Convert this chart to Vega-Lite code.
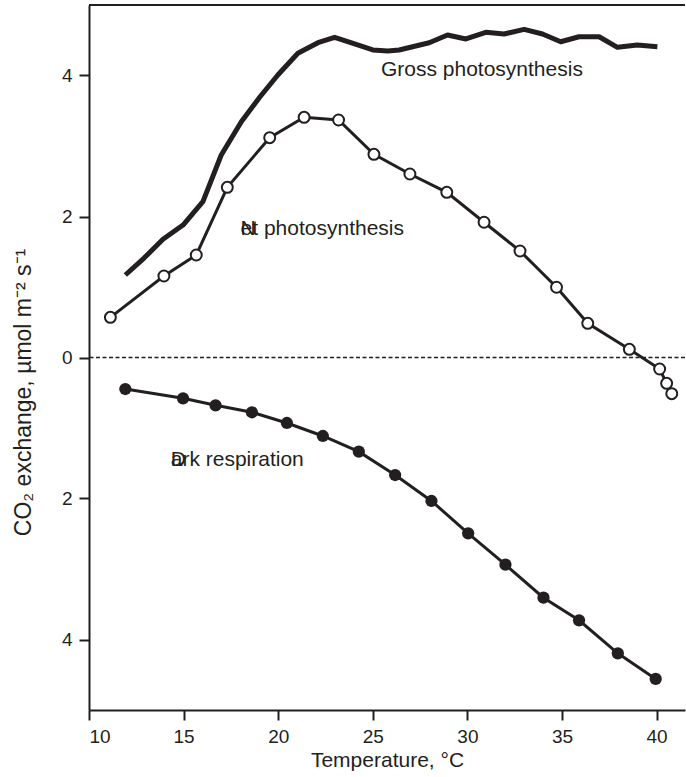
{
  "$schema": "https://vega.github.io/schema/vega-lite/v6.json",
  "width": 596,
  "height": 705,
  "autosize": {"type": "none"},
  "padding": {"left": 89, "top": 5, "right": 1, "bottom": 67},
  "background": "white",
  "config": {
    "view": {"stroke": null},
    "font": "Liberation Sans",
    "axis": {
      "domainColor": "#231f20", "domainWidth": 2,
      "tickColor": "#231f20", "tickWidth": 2, "tickSize": 10,
      "labelFont": "Liberation Sans", "labelFontSize": 19, "labelColor": "#231f20",
      "titleFont": "Liberation Sans", "titleFontSize": 21, "titleFontWeight": "normal", "titleColor": "#231f20",
      "grid": false, "labelPadding": 7
    }
  },
  "datasets": {
    "curves": [
      {"series": "gross", "t": 11.92, "v": 1.17},
      {"series": "gross", "t": 12.91, "v": 1.41},
      {"series": "gross", "t": 13.91, "v": 1.677},
      {"series": "gross", "t": 14.97, "v": 1.879},
      {"series": "gross", "t": 16.02, "v": 2.21},
      {"series": "gross", "t": 16.99, "v": 2.872},
      {"series": "gross", "t": 18.05, "v": 3.345},
      {"series": "gross", "t": 19.03, "v": 3.695},
      {"series": "gross", "t": 19.98, "v": 4.007},
      {"series": "gross", "t": 21.04, "v": 4.315},
      {"series": "gross", "t": 22.10, "v": 4.465},
      {"series": "gross", "t": 22.98, "v": 4.542},
      {"series": "gross", "t": 24.04, "v": 4.447},
      {"series": "gross", "t": 25.00, "v": 4.362},
      {"series": "gross", "t": 25.79, "v": 4.348},
      {"series": "gross", "t": 26.39, "v": 4.362},
      {"series": "gross", "t": 27.98, "v": 4.465},
      {"series": "gross", "t": 28.95, "v": 4.574},
      {"series": "gross", "t": 29.92, "v": 4.518},
      {"series": "gross", "t": 30.97, "v": 4.613},
      {"series": "gross", "t": 31.94, "v": 4.589},
      {"series": "gross", "t": 33.00, "v": 4.655},
      {"series": "gross", "t": 33.97, "v": 4.589},
      {"series": "gross", "t": 34.93, "v": 4.479},
      {"series": "gross", "t": 35.90, "v": 4.55},
      {"series": "gross", "t": 36.96, "v": 4.55},
      {"series": "gross", "t": 37.93, "v": 4.40},
      {"series": "gross", "t": 38.98, "v": 4.433},
      {"series": "gross", "t": 40.04, "v": 4.409},
      {"series": "net", "t": 11.13, "v": 0.57},
      {"series": "net", "t": 13.96, "v": 1.156},
      {"series": "net", "t": 15.67, "v": 1.454},
      {"series": "net", "t": 17.31, "v": 2.414},
      {"series": "net", "t": 19.55, "v": 3.118},
      {"series": "net", "t": 21.37, "v": 3.407},
      {"series": "net", "t": 23.19, "v": 3.369},
      {"series": "net", "t": 25.06, "v": 2.882},
      {"series": "net", "t": 26.96, "v": 2.603},
      {"series": "net", "t": 28.91, "v": 2.343},
      {"series": "net", "t": 30.88, "v": 1.918},
      {"series": "net", "t": 32.78, "v": 1.511},
      {"series": "net", "t": 34.71, "v": 0.996},
      {"series": "net", "t": 36.36, "v": 0.485},
      {"series": "net", "t": 38.56, "v": 0.116},
      {"series": "net", "t": 40.16, "v": -0.163},
      {"series": "net", "t": 40.53, "v": -0.366},
      {"series": "net", "t": 40.80, "v": -0.513},
      {"series": "dark", "t": 11.92, "v": -0.447},
      {"series": "dark", "t": 14.97, "v": -0.579},
      {"series": "dark", "t": 16.69, "v": -0.678},
      {"series": "dark", "t": 18.61, "v": -0.777},
      {"series": "dark", "t": 20.46, "v": -0.929},
      {"series": "dark", "t": 22.36, "v": -1.113},
      {"series": "dark", "t": 24.26, "v": -1.336},
      {"series": "dark", "t": 26.18, "v": -1.667},
      {"series": "dark", "t": 28.10, "v": -2.035},
      {"series": "dark", "t": 30.04, "v": -2.494},
      {"series": "dark", "t": 32.01, "v": -2.939},
      {"series": "dark", "t": 34.02, "v": -3.407},
      {"series": "dark", "t": 35.90, "v": -3.728},
      {"series": "dark", "t": 37.95, "v": -4.196},
      {"series": "dark", "t": 39.95, "v": -4.559}
    ],
    "labels": [
      {"text": "Gross photosynthesis", "t": 25.43, "v": 4.08},
      {"text": "et photosynthesis", "t": 18.01, "v": 1.82},
      {"text": "N", "t": 18.01, "v": 1.82},
      {"text": "ark respiration", "t": 14.32, "v": -1.45},
      {"text": "D", "t": 14.32, "v": -1.45}
    ]
  },
  "encoding": {
    "x": {
      "field": "t", "type": "quantitative",
      "scale": {"domain": [10, 41.5], "nice": false, "zero": false},
      "axis": {"values": [10, 15, 20, 25, 30, 35, 40], "title": "Temperature, °C", "titlePadding": 3}
    },
    "y": {
      "field": "v", "type": "quantitative",
      "scale": {"domain": [-5, 5], "nice": false, "zero": false},
      "axis": {
        "values": [-4, -2, 0, 2, 4],
        "labelExpr": "'' + abs(datum.value)",
        "title": "CO₂ exchange, µmol m⁻²  s⁻¹",
        "titleFontSize": 23,
        "titleX": -66, "titleY": 387, "titleBaseline": "middle", "titleAngle": -90
      }
    }
  },
  "layer": [
    {
      "data": {"values": [{"v": 0}]},
      "mark": {"type": "rule", "color": "#231f20", "strokeWidth": 1.5, "strokeDash": [4, 2.5]},
      "encoding": {"x": null, "y": {"field": "v", "type": "quantitative"}}
    },
    {
      "data": {"values": [{"v": 5}]},
      "mark": {"type": "rule", "color": "#231f20", "strokeWidth": 2},
      "encoding": {"x": null, "y": {"field": "v", "type": "quantitative"}}
    },
    {
      "data": {"name": "curves"},
      "transform": [{"filter": "datum.series == 'gross'"}],
      "mark": {"type": "line", "color": "#231f20", "strokeWidth": 5, "strokeJoin": "round"}
    },
    {
      "data": {"name": "curves"},
      "transform": [{"filter": "datum.series == 'net'"}],
      "mark": {"type": "line", "color": "#231f20", "strokeWidth": 3}
    },
    {
      "data": {"name": "curves"},
      "transform": [{"filter": "datum.series == 'dark'"}],
      "mark": {"type": "line", "color": "#231f20", "strokeWidth": 3}
    },
    {
      "data": {"name": "curves"},
      "transform": [{"filter": "datum.series == 'net'"}],
      "mark": {"type": "point", "shape": "circle", "filled": true, "fill": "white", "stroke": "#231f20", "strokeWidth": 2, "size": 120, "opacity": 1}
    },
    {
      "data": {"name": "curves"},
      "transform": [{"filter": "datum.series == 'dark'"}],
      "mark": {"type": "point", "shape": "circle", "filled": true, "fill": "#231f20", "size": 150, "opacity": 1}
    },
    {
      "data": {"name": "labels"},
      "mark": {"type": "text", "align": "left", "baseline": "middle", "fontSize": 21, "font": "Liberation Sans", "color": "#231f20"},
      "encoding": {"text": {"field": "text"}}
    }
  ]
}
